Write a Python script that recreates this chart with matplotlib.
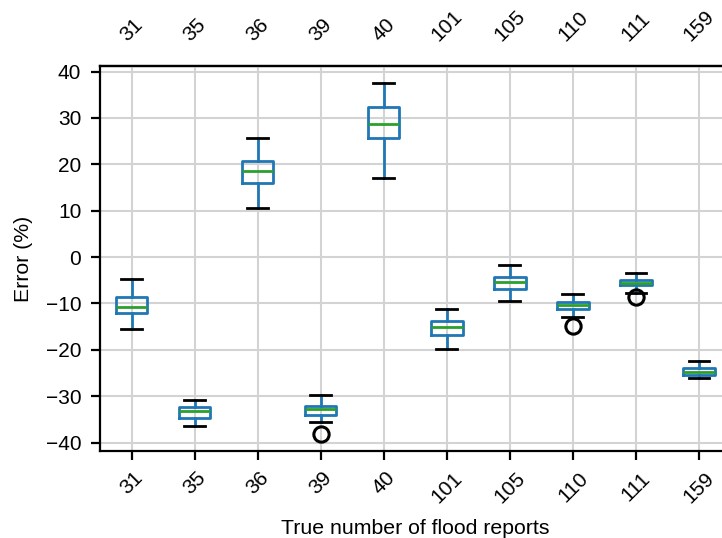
import matplotlib
matplotlib.use("Agg")
import matplotlib.pyplot as plt

plt.rcParams['font.family'] = ['Liberation Sans', 'DejaVu Sans']
plt.rcParams['font.size'] = 15

categories = ["31", "35", "36", "39", "40", "101", "105", "110", "111", "159"]
whisker_low = [-15.4, -36.4, 10.5, -35.6, 17.1, -19.8, -9.4, -12.9, -7.7, -26.0]
q1 = [-12.0, -34.7, 15.9, -34.1, 25.7, -16.7, -6.9, -11.2, -6.1, -25.4]
median = [-10.7, -33.2, 18.6, -32.8, 28.7, -15.1, -5.4, -10.4, -5.6, -24.7]
q3 = [-8.6, -32.3, 20.7, -32.1, 32.4, -13.8, -4.3, -9.7, -5.0, -23.9]
whisker_high = [-4.8, -30.7, 25.7, -29.8, 37.5, -11.2, -1.7, -7.9, -3.4, -22.4]
outliers = [[], [], [], [-38.2], [], [], [], [-14.9], [-8.5], []]

stats = []
for i, c in enumerate(categories):
    stats.append(dict(label=c, whislo=whisker_low[i], q1=q1[i], med=median[i],
                      q3=q3[i], whishi=whisker_high[i], fliers=outliers[i]))

fig = plt.figure(figsize=(7.22, 5.38), dpi=100)
ax = fig.add_axes([100 / 722, 1 - 451 / 538, 630.5 / 722, 385 / 538])

blue = "#1f77b4"
ax.bxp(stats, positions=range(1, len(categories) + 1), widths=0.5, capwidths=0.33,
       boxprops=dict(color=blue, linewidth=2.0),
       whiskerprops=dict(color=blue, linewidth=2.0),
       capprops=dict(color="black", linewidth=2.0),
       medianprops=dict(color="#2ca02c", linewidth=2.0),
       flierprops=dict(marker="o", markerfacecolor="none", markeredgecolor="black",
                       markersize=11, markeredgewidth=2.2))

ax.set_xlim(0.5, len(categories) + 0.5)
ax.set_ylim(-41.8, 41.2)
ax.set_yticks([-40, -30, -20, -10, 0, 10, 20, 30, 40])
ax.set_xticks(range(1, len(categories) + 1))
ax.set_xticklabels(categories, rotation=45)
ax.grid(True, color="#d3d3d3", linewidth=1.5)
ax.set_axisbelow(True)
for s in ["left", "top", "bottom", "right"]:
    ax.spines[s].set_linewidth(1.6)
ax.tick_params(width=1.6, length=6.5)
ax.tick_params(axis="y", pad=7, labelsize=15)
ax.tick_params(axis="x", pad=6, labelsize=15)
ax.set_xlabel("True number of flood reports", fontsize=15.3, labelpad=9)
ax.set_ylabel("Error (%)", fontsize=15.3, labelpad=9)

top = ax.secondary_xaxis("top")
top.set_xticks(range(1, len(categories) + 1))
top.set_xticklabels(categories, rotation=45)
top.tick_params(length=0, pad=15, labelsize=15)
top.spines["top"].set_linewidth(1.6)

fig.savefig("out.png", dpi=100)
